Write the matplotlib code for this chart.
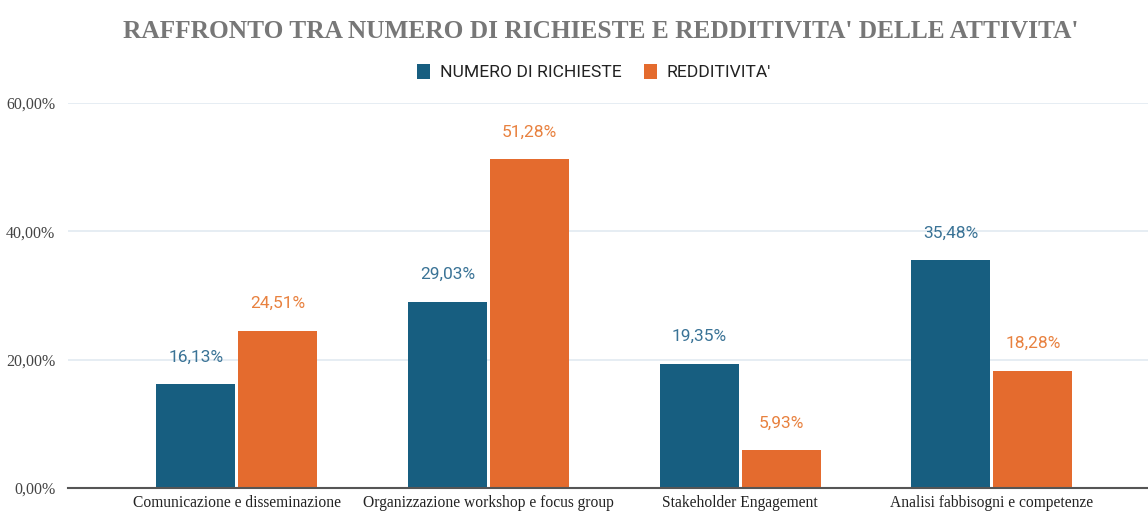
import matplotlib
matplotlib.use("Agg")
import matplotlib.pyplot as plt
import numpy as np

categories = ["Comunicazione e disseminazione", "Organizzazione workshop e focus group",
              "Stakeholder Engagement", "Analisi fabbisogni e competenze"]
richieste = [16.13, 29.03, 19.35, 35.48]
redditivita = [24.51, 51.28, 5.93, 18.28]
series_names = ["NUMERO DI RICHIESTE", "REDDITIVITA'"]
yticks = [0, 20, 40, 60]
ytick_labels = ["0,00%", "20,00%", "40,00%", "60,00%"]

blue = "#175E80"
orange = "#E46B2E"
blue_lbl = "#3A7396"
orange_lbl = "#E8813F"

fig = plt.figure(figsize=(11.48, 5.11), dpi=100)
ax = fig.add_axes([68/1148, 1-488/511, 1-68/1148, (488-103)/511])

x = np.arange(len(categories))
w = 0.314
gap = 0.006
b1 = ax.bar(x - w/2 - gap, richieste, w, color=blue, zorder=3)
b2 = ax.bar(x + w/2 + gap, redditivita, w, color=orange, zorder=3)

def fmt(v):
    return f"{v:.2f}".replace(".", ",") + "%"

for bars, vals, c in [(b1, richieste, blue_lbl), (b2, redditivita, orange_lbl)]:
    for r, v in zip(bars, vals):
        ax.annotate(fmt(v), (r.get_x() + r.get_width()/2, v), xytext=(0, 19.5),
                    textcoords="offset points", ha="center", va="center",
                    color=c, fontsize=12.5, family="Roboto")

ax.set_xlim(-0.671, 3.62)
ax.set_ylim(0, 60)
ax.set_yticks(yticks)
ax.set_yticklabels(ytick_labels, family="Liberation Serif", fontsize=11.5, color="#444444")
ax.set_xticks(x)
ax.set_xticklabels(categories, family="Liberation Serif", fontsize=11.2, color="#222222")
ax.tick_params(axis="both", length=0)
ax.tick_params(axis="y", pad=9)
ax.tick_params(axis="x", pad=5)
for s in ["top", "right", "left"]:
    ax.spines[s].set_visible(False)
ax.spines["bottom"].set_color("#555555")
ax.spines["bottom"].set_linewidth(1.5)
ax.spines["bottom"].set_zorder(4)
ax.grid(axis="y", color="#E2EAF1", linewidth=1.2, zorder=0)
ax.set_axisbelow(True)

fig.text(601/1148, 1-31/511, "RAFFRONTO TRA NUMERO DI RICHIESTE E REDDITIVITA' DELLE ATTIVITA'",
         ha="center", va="center", family="Liberation Serif", fontweight="bold",
         fontsize=18.3, color="#777777")

leg = ax.legend([b1, b2], series_names, loc="center", bbox_to_anchor=(594/1148, 1-72/511),
                bbox_transform=fig.transFigure, ncol=2, frameon=False,
                handlelength=0.75, handleheight=1.0, handletextpad=0.55, columnspacing=1.3,
                prop={"family": "Roboto", "size": 12.6})
for t in leg.get_texts():
    t.set_color("#222222")

fig.savefig("out.png", dpi=100)
